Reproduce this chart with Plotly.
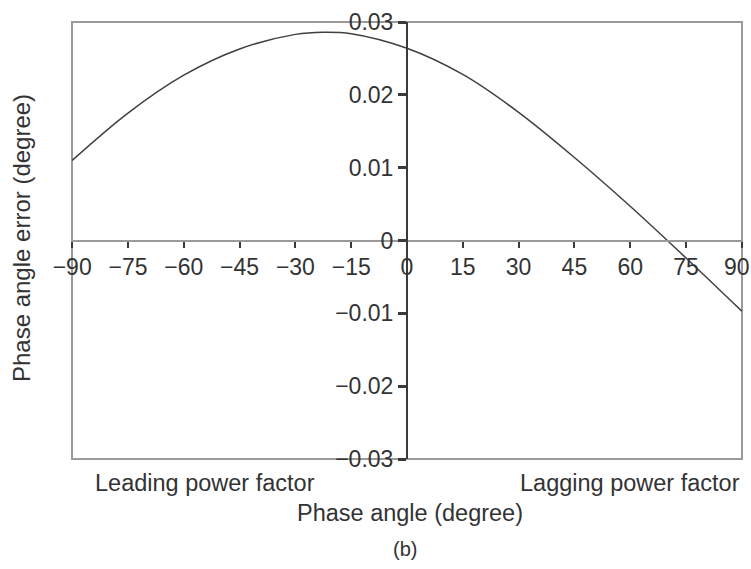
import plotly.graph_objects as go

# Phase angle (degree) and the corresponding phase angle error (degree)
phase_angle = [-90, -75, -60, -45, -30, -22.5, -15, 0, 15, 30, 45, 60, 75, 90]
angle_error = [0.0110, 0.0175, 0.0227, 0.0263, 0.0283, 0.0286, 0.0284,
               0.0264, 0.0228, 0.0176, 0.0114, 0.0047, -0.0024, -0.0097]

x_ticks = [-90, -75, -60, -45, -30, -15, 0, 15, 30, 45, 60, 75, 90]
x_tick_text = ["\u221290", "\u221275", "\u221260", "\u221245", "\u221230", "\u221215",
               "0", "15", "30", "45", "60", "75", "90"]
y_ticks = [-0.03, -0.02, -0.01, 0, 0.01, 0.02, 0.03]
y_tick_text = ["\u22120.03", "\u22120.02", "\u22120.01", "0", "0.01", "0.02", "0.03"]

FONT = "Liberation Sans, Arial, sans-serif"
TEXT = "#333333"
GRAY = "#9a9a9a"
DARK = "#3a3a3a"

# the right-most tick label sits at the page edge; it is drawn as an
# annotation nudged inward, the axis keeps an empty label in its place
axis_tick_text = x_tick_text[:-1] + [""]

fig = go.Figure()
fig.add_trace(go.Scatter(
    x=phase_angle, y=angle_error, mode="lines",
    line=dict(color="#404040", width=1.5, shape="spline", smoothing=1.0),
    hoverinfo="skip", showlegend=False,
))


def label(text, x, y, size=23.5, **kw):
    return dict(text=text, xref="paper", yref="paper", x=x, y=y,
                xanchor=kw.pop("xanchor", "center"), yanchor="middle",
                showarrow=False, font=dict(family=FONT, size=size, color=TEXT), **kw)


fig.update_layout(
    width=751, height=569,
    margin=dict(l=72, r=9, t=22, b=110),
    paper_bgcolor="white", plot_bgcolor="white",
    font=dict(family=FONT, size=23, color=TEXT),
    xaxis=dict(
        range=[-90.05, 90.05], tickvals=x_ticks, ticktext=axis_tick_text,
        anchor="free", position=0.5, automargin=False,
        showline=True, linecolor=GRAY, linewidth=2,
        ticks="outside", ticklen=6, tickwidth=1.5, tickcolor=DARK,
        showgrid=False, zeroline=False,
        tickfont=dict(family=FONT, size=23, color=TEXT),
    ),
    yaxis=dict(
        range=[-0.03, 0.03], tickvals=y_ticks, ticktext=y_tick_text,
        anchor="free", position=0.5, side="left", automargin=False,
        showline=True, linecolor=DARK, linewidth=2,
        ticks="outside", ticklen=8, tickwidth=2.5, tickcolor=DARK,
        showgrid=False, zeroline=False,
        tickfont=dict(family=FONT, size=23, color=TEXT),
    ),
    shapes=[dict(type="rect", xref="paper", yref="paper", x0=0, x1=1, y0=0, y1=1,
                 line=dict(color=GRAY, width=2), layer="below")],
    annotations=[
        dict(text=x_tick_text[-1], xref="x", yref="y", x=x_ticks[-1], y=0,
             xanchor="center", yanchor="middle", xshift=-5, yshift=-26,
             showarrow=False, font=dict(family=FONT, size=23, color=TEXT)),
        label("Phase angle error (degree)", -0.075, 0.505, size=24, textangle=-90),
        label("Leading power factor", 0.199, -0.055),
        label("Lagging power factor", 1.0, -0.055, xanchor="right"),
        label("Phase angle (degree)", 0.505, -0.124),
        label("(b)", 0.497, -0.206, size=20),
    ],
)

fig.write_html("out.html")
